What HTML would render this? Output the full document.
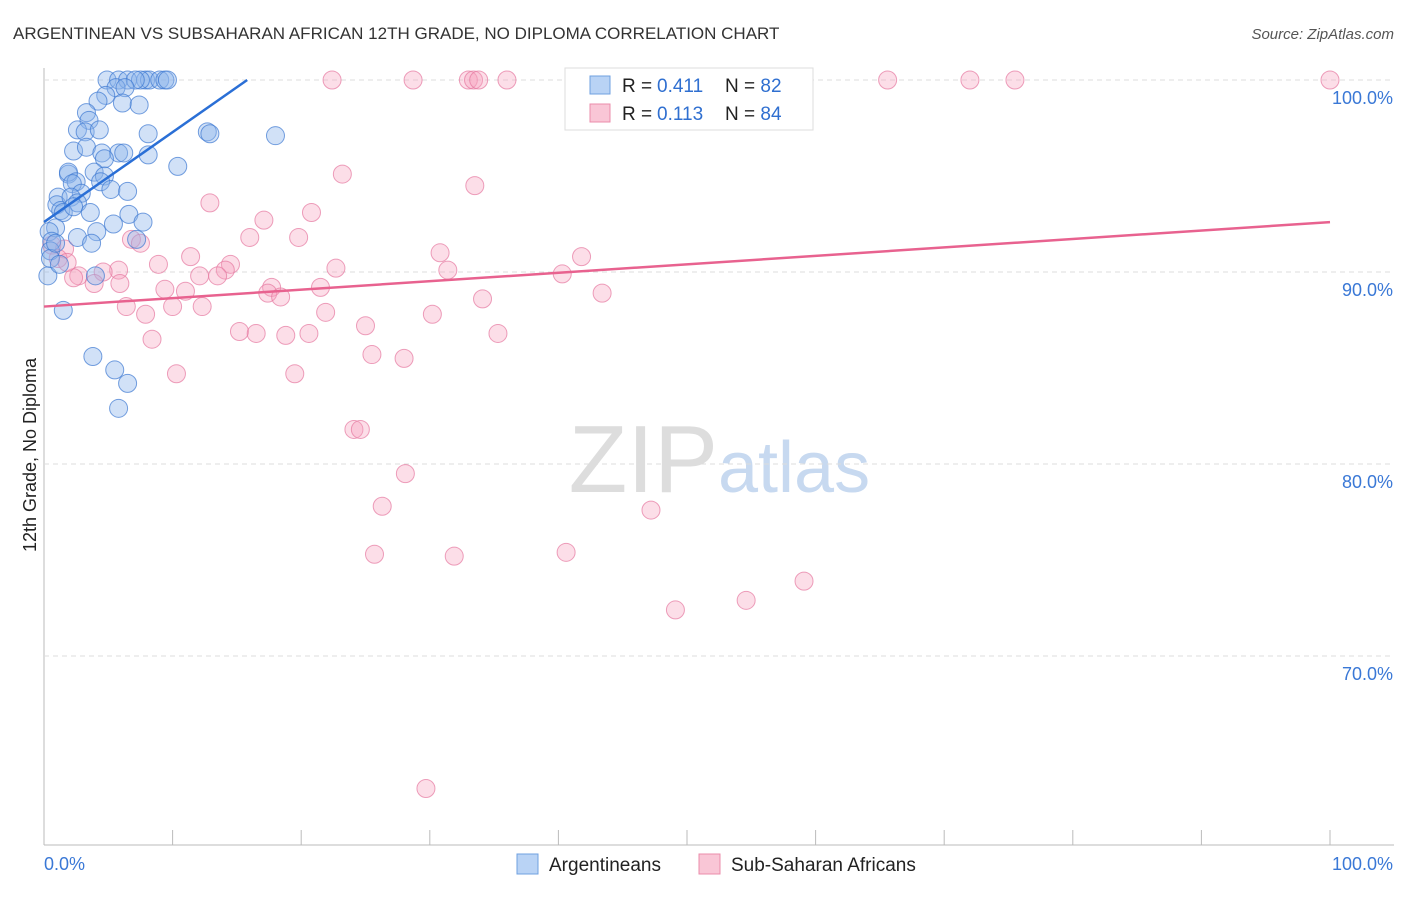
<!DOCTYPE html>
<html><head><meta charset="utf-8"><style>
body{margin:0;background:#fff;font-family:"Liberation Sans",sans-serif}
svg text{font-family:"Liberation Sans",sans-serif}
</style></head><body>
<svg id="c" width="1406" height="892">
<text x="13" y="39" font-size="17" fill="#333">ARGENTINEAN VS SUBSAHARAN AFRICAN 12TH GRADE, NO DIPLOMA CORRELATION CHART</text>
<text x="1394" y="39" font-size="15" fill="#555" text-anchor="end" font-style="italic">Source: ZipAtlas.com</text>
<text x="36" y="455" font-size="18" fill="#222" text-anchor="middle" transform="rotate(-90 36 455)">12th Grade, No Diploma</text>
<text x="718" y="492" font-size="96" fill="#ddd" text-anchor="end" font-family="Liberation Serif">ZIP</text>
<text x="718" y="492" font-size="72" fill="#c7d9f0">atlas</text>
<g id="grid"></g><g id="pts"></g><g id="lines"></g>
<g>
<rect x="565" y="68" width="248" height="62" fill="#fff" stroke="#ddd"/>
<rect x="590" y="76" width="20" height="18" fill="#b9d3f5" stroke="#6fa0e0"/>
<rect x="590" y="104" width="20" height="18" fill="#f9c6d6" stroke="#eb8cab"/>
<text x="622" y="92" font-size="19" fill="#222">R = </text><text x="657" y="92" font-size="19" fill="#2f6fd0">0.411</text>
<text x="725" y="92" font-size="19" fill="#222">N = <tspan fill="#2f6fd0">82</tspan></text>
<text x="622" y="120" font-size="19" fill="#222">R = </text><text x="657" y="120" font-size="19" fill="#2f6fd0">0.113</text>
<text x="725" y="120" font-size="19" fill="#222">N = <tspan fill="#2f6fd0">84</tspan></text>
</g>
<g>
<rect x="517" y="854" width="21" height="20" fill="#b9d3f5" stroke="#6fa0e0"/>
<text x="549" y="871" font-size="19" fill="#222">Argentineans</text>
<rect x="699" y="854" width="21" height="20" fill="#f9c6d6" stroke="#eb8cab"/>
<text x="731" y="871" font-size="19" fill="#222">Sub-Saharan Africans</text>
</g>
</svg>
<script>
const yTicks=[100,90,80,70];
const xTickLabels=["0.0%","100.0%"];
const blueX=[4.9,5.8,6.5,7.9,8.2,9.0,9.4,9.6,7.5,7.1,5.6,6.3,4.8,4.2,6.1,7.4,3.3,3.5,2.6,3.2,4.3,8.1,12.7,12.9,18.0,2.3,3.3,4.5,5.8,6.2,8.1,4.7,10.4,1.9,1.9,3.9,4.7,2.5,4.4,2.2,5.2,6.5,1.1,1.0,2.9,1.3,2.1,2.6,1.5,2.3,3.6,6.6,7.7,5.4,4.1,0.9,0.4,2.6,0.6,3.7,7.2,0.5,0.5,4.0,0.3,1.5,3.8,5.5,6.5,5.8,1.2,0.9];
const blueY=[100,100,100,100,100,100,100,100,100,100,99.6,99.6,99.2,98.9,98.8,98.7,98.3,97.9,97.4,97.3,97.4,97.2,97.3,97.2,97.1,96.3,96.5,96.2,96.2,96.2,96.1,95.9,95.5,95.1,95.2,95.2,95.0,94.7,94.7,94.6,94.3,94.2,93.9,93.5,94.1,93.2,93.9,93.6,93.1,93.4,93.1,93.0,92.6,92.5,92.1,92.3,92.1,91.8,91.6,91.5,91.7,91.1,90.7,89.8,89.8,88.0,85.6,84.9,84.2,82.9,90.4,91.5];
const pinkX=[22.4,28.7,33.0,33.4,33.8,36.0,42.5,52.3,65.6,72.0,75.5,100,23.2,33.5,12.9,20.8,17.1,16.0,19.8,6.8,7.5,30.8,11.4,41.8,8.9,14.5,12.1,22.7,31.4,40.3,14.1,13.5,5.8,4.6,2.7,2.3,5.9,9.4,11.0,17.7,17.4,18.4,21.5,43.4,34.1,12.3,6.4,7.9,10.0,21.9,30.2,25.0,15.2,16.5,18.8,20.6,35.3,8.4,25.5,28.0,10.3,19.5,24.1,24.6,28.1,26.3,47.2,25.7,31.9,40.6,59.1,54.6,49.1,29.7,0.6,1.6,1.1,1.8,3.9];
const pinkY=[100,100,100,100,100,100,100,100,100,100,100,100,95.1,94.5,93.6,93.1,92.7,91.8,91.8,91.7,91.5,91.0,90.8,90.8,90.4,90.4,89.8,90.2,90.1,89.9,90.1,89.8,90.1,90.0,89.8,89.7,89.4,89.1,89.0,89.2,88.9,88.7,89.2,88.9,88.6,88.2,88.2,87.8,88.2,87.9,87.8,87.2,86.9,86.8,86.7,86.8,86.8,86.5,85.7,85.5,84.7,84.7,81.8,81.8,79.5,77.8,77.6,75.3,75.2,75.4,73.9,72.9,72.4,63.1,91.4,91.2,90.7,90.5,89.4];
const blueTrend=[[0,92.6],[15.8,100]];
const pinkTrend=[[0,88.2],[100,92.6]];
const NS="http://www.w3.org/2000/svg";
const X=v=>44+v*12.86, Y=v=>80+(100-v)*19.2;
function mk(tag,attrs,parent){const e=document.createElementNS(NS,tag);for(const k in attrs)e.setAttribute(k,attrs[k]);document.getElementById(parent).appendChild(e);return e;}
mk('line',{x1:44,y1:68,x2:44,y2:845,stroke:'#bbb'},'grid');
mk('line',{x1:44,y1:845,x2:1394,y2:845,stroke:'#bbb'},'grid');
for(let i=0;i<=10;i++){const l=mk('line',{x1:X(i*10),y1:830,x2:X(i*10),y2:845,stroke:'#bbb'},'grid');

}
yTicks.forEach(t=>{const g=mk('line',{x1:44,y1:Y(t),x2:1394,y2:Y(t),stroke:'#ddd','stroke-dasharray':'5,4'},'grid');


const tx=mk('text',{x:1393,y:Y(t)+24,'font-size':18,fill:'#3a78d6','text-anchor':'end'},'grid');tx.textContent=t.toFixed(1)+'%';

});
const xl0=mk('text',{x:44,y:870,'font-size':18,fill:'#3a78d6'},'grid');xl0.textContent=xTickLabels[0];


const xl1=mk('text',{x:1393,y:870,'font-size':18,fill:'#3a78d6','text-anchor':'end'},'grid');xl1.textContent=xTickLabels[1];


pinkX.forEach((v,i)=>{const c=mk('circle',{cx:X(v),cy:Y(pinkY[i]),r:9,fill:'rgba(245,160,190,0.35)',stroke:'rgba(230,120,160,0.7)','stroke-width':1},'pts');

});
blueX.forEach((v,i)=>{const c=mk('circle',{cx:X(v),cy:Y(blueY[i]),r:9,fill:'rgba(140,180,235,0.4)',stroke:'rgba(60,120,210,0.7)','stroke-width':1},'pts');

});
const bl=mk('line',{x1:X(blueTrend[0][0]),y1:Y(blueTrend[0][1]),x2:X(blueTrend[1][0]),y2:Y(blueTrend[1][1]),stroke:'#2a6fd6','stroke-width':2.5},'lines');


const pl=mk('line',{x1:X(pinkTrend[0][0]),y1:Y(pinkTrend[0][1]),x2:X(pinkTrend[1][0]),y2:Y(pinkTrend[1][1]),stroke:'#e8628f','stroke-width':2.5},'lines');


</script>
</body></html>
